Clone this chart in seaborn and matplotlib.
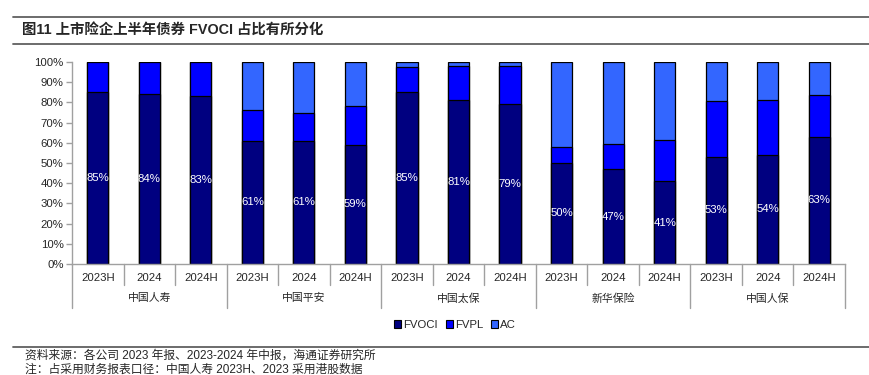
import numpy as np
import pandas as pd
import matplotlib
matplotlib.use('Agg')
import matplotlib.pyplot as plt
from matplotlib.patches import Patch
from matplotlib.lines import Line2D
import seaborn as sns

companies = ['中国人寿', '中国平安', '中国太保', '新华保险', '中国人保']
periods = ['2023H', '2024', '2024H']
fvoci = [85, 84, 83, 61, 61, 59, 85, 81, 79, 50, 47, 41, 53, 54, 63]
fvpl = [15, 16, 17, 15, 14, 19, 12.5, 17, 19, 8, 12.5, 20.5, 27.5, 27, 20.5]
ac = [0, 0, 0, 24, 25, 22, 2.5, 2, 2, 42, 40.5, 38.5, 19.5, 19, 16.5]

colors = {'FVOCI': '#000080', 'FVPL': '#0000FF', 'AC': '#3366FF'}

sns.set_style('white')
plt.rcParams['font.family'] = ['Liberation Sans', 'Noto Sans CJK SC']

df = pd.DataFrame({
    'company': np.repeat(companies, len(periods)),
    'period': periods * len(companies),
    'FVOCI': fvoci, 'FVPL': fvpl, 'AC': ac,
})
df['key'] = df['company'] + '_' + df['period']
df['lvl2'] = df['FVOCI'] + df['FVPL']
df['lvl3'] = df['lvl2'] + df['AC']

fig = plt.figure(figsize=(8.7, 3.75), dpi=100)
ax = fig.add_axes([72 / 870, 1 - 264 / 375, (845 - 72) / 870, (264 - 62) / 375])

# stacked: draw totals first, then overlay lower stacks
for col, name in [('lvl3', 'AC'), ('lvl2', 'FVPL'), ('FVOCI', 'FVOCI')]:
    sns.barplot(data=df, x='key', y=col, order=df['key'], color=colors[name],
                saturation=1, width=0.41, edgecolor='black', linewidth=0.9, ax=ax)

for i, v in enumerate(df['FVOCI']):
    ax.text(i, v / 2, f'{v}%', ha='center', va='center', color='white', fontsize=8.2)

ax.set_xlim(-0.5, len(df) - 0.5)
ax.set_ylim(0, 100)
ax.set_yticks(np.arange(0, 101, 10))
ax.set_yticklabels([f'{t}%' for t in range(0, 101, 10)], fontsize=8.2)
ax.set_xticks([])
ax.set_xlabel('')
ax.set_ylabel('')
for s in ['top', 'right']:
    ax.spines[s].set_visible(False)
for s in ['left', 'bottom']:
    ax.spines[s].set_color('#a0a0a0')
    ax.spines[s].set_linewidth(1)
ax.tick_params(axis='y', which='both', left=True, length=4, color='#a0a0a0', width=1, pad=2)

# category axis below
trans = ax.get_xaxis_transform()
for i, p in enumerate(df['period']):
    ax.text(i, -0.07, p, transform=trans, ha='center', va='center', fontsize=8.2)
for g, c in enumerate(companies):
    ax.text(g * 3 + 1, -0.17, c, transform=trans, ha='center', va='center', fontsize=7.8)
for i in range(len(df) + 1):
    x = i - 0.5
    low = -0.22 if i % 3 == 0 else -0.105
    ax.add_line(Line2D([x, x], [0, low], transform=trans, color='#a0a0a0', lw=1, clip_on=False))

handles = [Patch(facecolor=colors[n], edgecolor='black', linewidth=0.8, label=n) for n in ['FVOCI', 'FVPL', 'AC']]
fig.legend(handles=handles, loc='center', bbox_to_anchor=(455 / 870, 1 - 325 / 375), ncol=3,
           frameon=False, fontsize=8.2, handlelength=0.6, handleheight=0.6, handletextpad=0.2,
           columnspacing=0.7)

# header / footer
for y in [17, 43.5, 347]:
    fig.add_artist(Line2D([13 / 870, 870 / 870], [1 - y / 375] * 2, color='#606060', lw=1.3))
fig.text(22 / 870, 1 - 30 / 375, '图11 上市险企上半年债券 FVOCI 占比有所分化', fontsize=10.4,
         fontweight='bold', va='center', ha='left')
fig.text(25 / 870, 1 - 356 / 375, '资料来源：各公司 2023 年报、2023-2024 年中报，海通证券研究所',
         fontsize=8.5, va='center', ha='left')
fig.text(25 / 870, 1 - 370 / 375, '注：占采用财务报表口径：中国人寿 2023H、2023 采用港股数据',
         fontsize=8.5, va='center', ha='left')

fig.savefig('out.png', dpi=100)
